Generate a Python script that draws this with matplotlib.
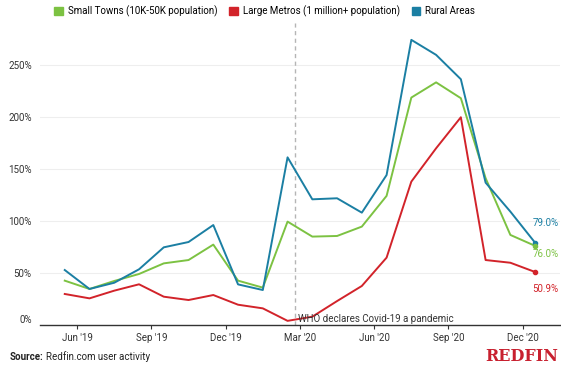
import numpy as np
import matplotlib.pyplot as plt
import matplotlib.transforms as mtransforms
from matplotlib.patches import Patch

# monthly points, positioned mid-month relative to the Jun '19 tick (0)
months = np.arange(20) - 0.5

small_towns = [42.6, 34.6, 42.3, 49.0, 59.2, 62.4, 77.2, 42.6, 35.9, 99.3,
               84.9, 85.5, 94.5, 124.0, 218.4, 233.0, 217.8, 141.0, 86.5, 76.0]
large_metros = [29.8, 25.6, 33.0, 39.1, 27.2, 24.0, 28.8, 19.5, 16.0, 4.0,
                8.0, 23.0, 37.5, 64.7, 137.7, 169.7, 199.5, 62.4, 59.8, 50.9]
rural_areas = [52.8, 34.6, 40.6, 53.5, 74.6, 79.7, 96.0, 39.0, 33.6, 161.0,
               120.7, 121.7, 107.9, 144.0, 273.8, 259.4, 236.0, 136.7, 108.9, 79.0]

tick_pos = [0, 3, 6, 9, 12, 15, 18]
tick_labels = ["Jun '19", "Sep '19", "Dec '19", "Mar '20", "Jun '20", "Sep '20", "Dec '20"]
y_ticks = [0, 50, 100, 150, 200, 250]
who_date = 8.8

GREEN = "#7cc242"
RED = "#d2232a"
BLUE = "#1b7fa3"

plt.rcParams['font.family'] = ['Roboto', 'DejaVu Sans']

fig = plt.figure(figsize=(5.61, 3.68), dpi=100)
ax = fig.add_axes([0.0713, 0.1168, 0.9267, 0.8207])

ax.plot(months, small_towns, color=GREEN, lw=1.4, zorder=3)
ax.plot(months, large_metros, color=RED, lw=1.4, zorder=3)
ax.plot(months, rural_areas, color=BLUE, lw=1.4, zorder=4)

# end-point dots and value labels
for series, col, dy in [(rural_areas, BLUE, 14), (small_towns, GREEN, -6), (large_metros, RED, -12.5)]:
    ax.plot(months[-1], series[-1], 'o', ms=3, color=col, zorder=5)
    ax.annotate(f"{series[-1]:.1f}%", (months[-1], series[-1]),
                xytext=(-2, dy), textcoords='offset points',
                ha='left', va='center', fontsize=7, color=col)

# pandemic marker
ax.axvline(who_date, color='#b5b5b5', lw=1, ls=(0, (3, 2.5)), zorder=2)
ax.text(who_date + 0.12, 1, "WHO declares Covid-19 a pandemic", fontsize=7,
        color='#333333', ha='left', va='bottom', zorder=6)

ax.set_xlim(-1.5, 19.5)
ax.set_ylim(0, 290)
ax.set_xticks(tick_pos)
ax.set_xticklabels(tick_labels)
ax.set_yticks(y_ticks)
ax.set_yticklabels([f"{v}%" for v in y_ticks])
ax.grid(axis='y', color='#eeeeee', lw=0.8)
ax.set_axisbelow(True)

for side in ['top', 'right', 'left']:
    ax.spines[side].set_visible(False)
ax.spines['bottom'].set_color('#333333')
ax.spines['bottom'].set_linewidth(1)
ax.tick_params(axis='x', length=3, color='#333333', labelsize=7, labelcolor='#333333', pad=3)
ax.tick_params(axis='y', length=0, labelsize=7, labelcolor='#333333', pad=6)

# lift the 0% label off the baseline
zero_lbl = ax.get_yticklabels()[0]
zero_lbl.set_transform(zero_lbl.get_transform() +
                       mtransforms.ScaledTranslation(0, 4 / 72, fig.dpi_scale_trans))

handles = [Patch(color=GREEN, label="Small Towns (10K-50K population)"),
           Patch(color=RED, label="Large Metros (1 million+ population)"),
           Patch(color=BLUE, label="Rural Areas")]
fig.legend(handles=handles, loc='upper center', bbox_to_anchor=(0.472, 1.01), ncol=3,
           frameon=False, fontsize=7, handlelength=0.9, handleheight=0.9,
           handletextpad=0.5, columnspacing=1.2)

fig.text(0.018, 0.022, "Source:", fontsize=7, fontweight='bold', color='#222222')
fig.text(0.082, 0.022, "Redfin.com user activity", fontsize=7, color='#222222')
fig.text(0.995, 0.018, "REDFIN", fontsize=11.5, fontweight='bold', color='#c8202f',
         ha='right', family=['DejaVu Serif'])

fig.savefig("out.png", dpi=100)
